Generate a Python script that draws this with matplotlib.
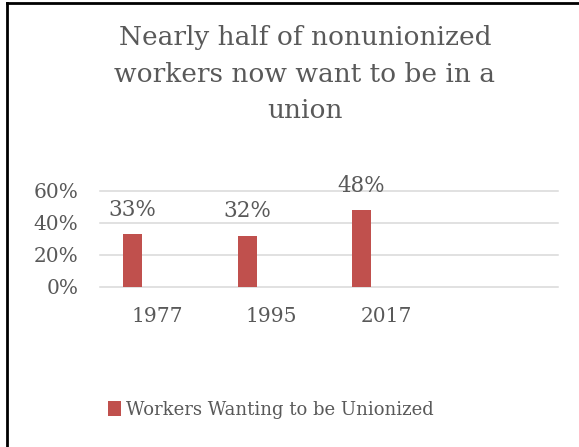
import matplotlib.pyplot as plt
from matplotlib.lines import Line2D
from matplotlib.patches import Patch
from matplotlib.ticker import PercentFormatter

# Chart data
years = ["1977", "1995", "2017", ""]
share_wanting_union = [0.33, 0.32, 0.48]
series_name = "Workers Wanting to be Unionized"
title_text = "Nearly half of nonunionized\nworkers now want to be in a\nunion"
y_ticks = [0.0, 0.2, 0.4, 0.6]

bar_color = "#C0504D"
text_color = "#595959"
grid_color = "#D9D9D9"

plt.rcParams['font.family'] = ['DejaVu Serif']

W, H = 579, 447
fig = plt.figure(figsize=(W / 100, H / 100), dpi=100)
ax = fig.add_axes([100 / W, 1 - 287 / H, 458 / W, 96 / H])

positions = list(range(len(years)))
bar_offset = -0.215
bar_x = [p + bar_offset for p in positions[:len(share_wanting_union)]]
bars = ax.bar(bar_x, share_wanting_union, width=0.165, color=bar_color, zorder=3)

# data labels above bars
for x, v in zip(bar_x, share_wanting_union):
    ax.annotate(f"{v:.0%}", (x, v), xytext=(0, 17.5), textcoords="offset points",
                ha="center", va="center", fontsize=15.5, color=text_color)

ax.set_xlim(-0.5, len(years) - 0.5)
ax.set_ylim(0, 0.6)
ax.set_yticks(y_ticks)
ax.yaxis.set_major_formatter(PercentFormatter(1.0, decimals=0))
ax.set_xticks(positions)
ax.set_xticklabels(years)
ax.tick_params(axis="both", length=0, labelsize=14.5, labelcolor=text_color)
ax.tick_params(axis="x", pad=14.5)
ax.tick_params(axis="y", pad=15.5)
ax.grid(axis="y", color=grid_color, linewidth=1.1, zorder=0)
for gl in ax.get_ygridlines():
    gl.set_clip_on(False)
for s in ax.spines.values():
    s.set_visible(False)

fig.text(305 / W, 1 - 74 / H, title_text, ha="center", va="center",
         fontsize=19, color=text_color, linespacing=1.6)

legend_handles = [Patch(facecolor=bar_color, label=series_name)]
fig.legend(handles=legend_handles, loc="center", bbox_to_anchor=(271 / W, 1 - 410 / H),
           frameon=False, fontsize=13, handlelength=0.7, handleheight=0.9,
           handletextpad=0.3, labelcolor=text_color)

# partial outer frame (left and top edges only)
fig.add_artist(Line2D([7 / W, 7 / W], [0, 1 - 3 / H], color="black", linewidth=2,
                      transform=fig.transFigure))
fig.add_artist(Line2D([7 / W, 1], [1 - 3 / H, 1 - 3 / H], color="black", linewidth=2,
                      transform=fig.transFigure))

fig.savefig("out.png", dpi=100)
